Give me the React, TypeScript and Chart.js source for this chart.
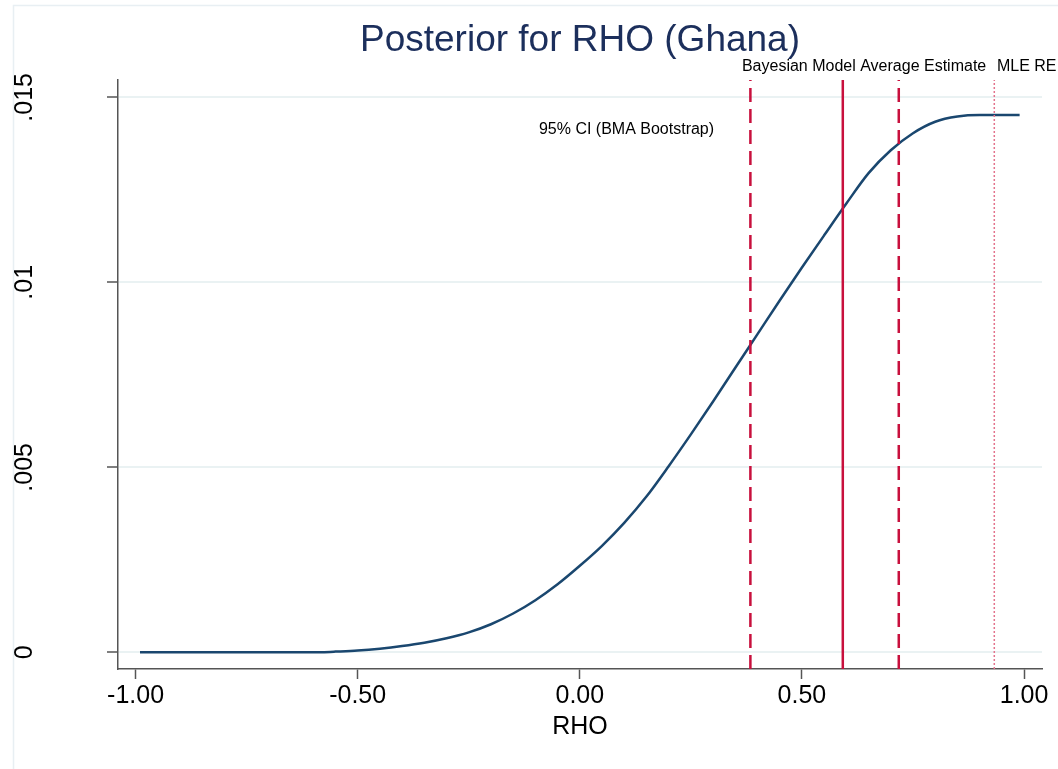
import React, { useEffect, useRef } from "react";
import { Chart, registerables } from "chart.js";

Chart.register(...registerables);

// ---- data ----
const rhoValues = [
  -0.99, -0.9, -0.8, -0.7, -0.6, -0.58, -0.55, -0.5, -0.45, -0.4, -0.35, -0.3, -0.25,
  -0.2, -0.15, -0.1, -0.05, 0, 0.05, 0.1, 0.15, 0.2, 0.25, 0.3, 0.35, 0.4, 0.45,
  0.5, 0.55, 0.6, 0.65, 0.7, 0.75, 0.8, 0.85, 0.9, 0.95, 0.99,
];
const densityValues = [
  0, 0, 0, 0, 0, 0.000005, 0.00002, 0.00005, 0.0001, 0.00017, 0.00026, 0.00038, 0.00054,
  0.00076, 0.00105, 0.00141, 0.00184, 0.00234, 0.00288, 0.0035, 0.00421, 0.00503, 0.00589,
  0.00678, 0.00769, 0.0086, 0.00951, 0.0104, 0.01127, 0.01213, 0.01295, 0.01357,
  0.01403, 0.01434, 0.01448, 0.01452, 0.01452, 0.01452,
];
const xTickValues = [-1, -0.5, 0, 0.5, 1];
const yTickValues = [0, 0.005, 0.01, 0.015];
const yTickLabels = ["0", ".005", ".01", ".015"];
const ciLower = 0.384;
const bmaEstimate = 0.592;
const ciUpper = 0.718;
const mleRe = 0.933;
const titleText = "Posterior for RHO (Ghana)";
const xAxisTitle = "RHO";
const bmaLabel = "Bayesian Model Average Estimate";
const bmaLabelX = 0.365;
const mleLabel = "MLE RE";
const mleLabelX = 0.939;
const ciLabel = "95% CI (BMA Bootstrap)";
const ciLabelX = -0.092;
const ciLabelY = 0.01414;

const xMin = -1.0395;
const xMax = 1.0404;
const yMin = -0.00045;
const yMax = 0.015468;

const FONT = "'Liberation Sans', Arial, sans-serif";
const CRIMSON = "#c8103d";

const customPlugin = {
  id: "stataDecor",
  beforeDraw(chart: any) {
    const ctx = chart.ctx;
    ctx.save();
    ctx.fillStyle = "#ffffff";
    ctx.fillRect(0, 0, chart.width, chart.height);
    ctx.strokeStyle = "#e8eff3";
    ctx.lineWidth = 1.5;
    ctx.beginPath();
    ctx.moveTo(13.5, chart.height);
    ctx.lineTo(13.5, 5.5);
    ctx.lineTo(chart.width, 5.5);
    ctx.stroke();
    ctx.restore();
  },
  afterDraw(chart: any) {
    const ctx = chart.ctx;
    const xs = chart.scales.x;
    const ys = chart.scales.y;
    const area = chart.chartArea;
    ctx.save();
    // title
    ctx.fillStyle = "#1c2f5c";
    ctx.font = `37px ${FONT}`;
    ctx.textAlign = "center";
    ctx.textBaseline = "alphabetic";
    ctx.fillText(titleText, (area.left + area.right) / 2, 51);
    // y tick labels (rotated)
    ctx.fillStyle = "#000";
    ctx.font = `25px ${FONT}`;
    yTickValues.forEach((v, i) => {
      const py = ys.getPixelForValue(v);
      ctx.save();
      ctx.translate(32, py);
      ctx.rotate(-Math.PI / 2);
      ctx.textAlign = "center";
      ctx.textBaseline = "alphabetic";
      ctx.fillText(yTickLabels[i], 0, 0);
      ctx.restore();
    });
    // x axis title
    ctx.textAlign = "center";
    ctx.textBaseline = "middle";
    ctx.font = `25px ${FONT}`;
    ctx.fillText(xAxisTitle, (area.left + area.right) / 2, 727);
    // line labels
    ctx.font = `16px ${FONT}`;
    ctx.textAlign = "left";
    ctx.textBaseline = "middle";
    ctx.fillText(bmaLabel, xs.getPixelForValue(bmaLabelX), area.top - 13);
    ctx.fillText(mleLabel, xs.getPixelForValue(mleLabelX), area.top - 13);
    ctx.fillText(ciLabel, xs.getPixelForValue(ciLabelX), ys.getPixelForValue(ciLabelY));
    ctx.restore();
  },
};

function vline(x: number) {
  return [
    { x, y: yMin },
    { x, y: yMax },
  ];
}

export default function App() {
  const ref = useRef<HTMLCanvasElement | null>(null);
  useEffect(() => {
    if (!ref.current) return;
    const curve = rhoValues.map((x, i) => ({ x, y: densityValues[i] }));
    const chart = new Chart(ref.current, {
      type: "line",
      data: {
        datasets: [
          {
            data: vline(mleRe),
            borderColor: "#e3738c",
            borderWidth: 1.5,
            borderDash: [2, 2],
            pointRadius: 0,
          },
          {
            data: vline(ciLower),
            borderColor: CRIMSON,
            borderWidth: 2.5,
            borderDash: [14, 7],
            pointRadius: 0,
          },
          {
            data: vline(ciUpper),
            borderColor: CRIMSON,
            borderWidth: 2.5,
            borderDash: [14, 7],
            pointRadius: 0,
          },
          {
            data: vline(bmaEstimate),
            borderColor: CRIMSON,
            borderWidth: 2.5,
            pointRadius: 0,
          },
          {
            data: curve,
            borderColor: "#1a476f",
            borderWidth: 2.5,
            pointRadius: 0,
            cubicInterpolationMode: "monotone",
          },
        ],
      },
      options: {
        animation: false,
        responsive: false,
        devicePixelRatio: 1,
        layout: { padding: { top: 80, right: 16, left: 0, bottom: 0 } },
        plugins: {
          legend: { display: false },
          tooltip: { enabled: false },
          title: { display: false },
        },
        scales: {
          x: {
            type: "linear",
            min: xMin,
            max: xMax,
            afterBuildTicks: (s: any) => {
              s.ticks = xTickValues.map((v) => ({ value: v }));
            },
            afterFit: (s: any) => {
              s.height = 100;
            },
            ticks: {
              callback: (v: any) => Number(v).toFixed(2),
              font: { family: FONT, size: 25 },
              color: "#000",
              padding: 2,
              maxRotation: 0,
              autoSkip: false,
            },
            grid: {
              drawOnChartArea: false,
              drawTicks: true,
              tickLength: 10,
              tickColor: "#555",
              tickWidth: 1.5,
            },
            border: { color: "#555", width: 1.5 },
          },
          y: {
            type: "linear",
            min: yMin,
            max: yMax,
            afterBuildTicks: (s: any) => {
              s.ticks = yTickValues.map((v) => ({ value: v }));
            },
            afterFit: (s: any) => {
              s.width = 118;
            },
            ticks: { display: false },
            grid: {
              color: "#eaf2f3",
              lineWidth: 2,
              drawTicks: true,
              tickLength: 11,
              tickColor: "#555",
              tickWidth: 1.5,
            },
            border: { color: "#555", width: 1.5 },
          },
        },
      },
      plugins: [customPlugin],
    } as any);
    return () => chart.destroy();
  }, []);
  return (
    <div style={{ position: "absolute", left: 0, top: 0, width: 1058, height: 769 }}>
      <canvas ref={ref} width={1058} height={769} />
    </div>
  );
}
